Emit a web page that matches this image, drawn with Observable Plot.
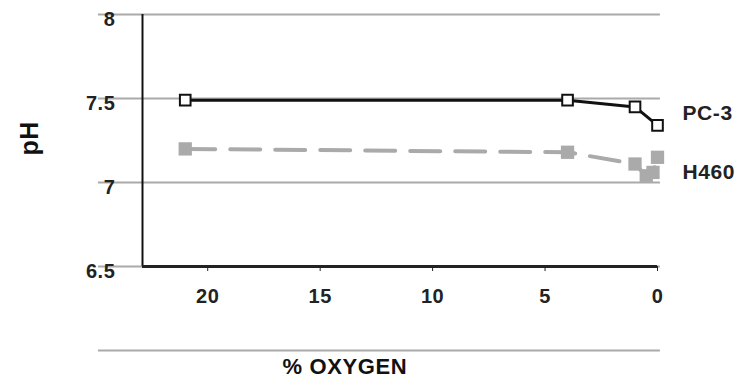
<!DOCTYPE html>
<html>
<head>
<meta charset="utf-8">
<script src="https://cdn.jsdelivr.net/npm/d3@7"></script>
<script src="https://cdn.jsdelivr.net/npm/@observablehq/plot@0.6"></script>
<style>
  body { margin: 0; background: #fff; }
  #chart text { letter-spacing: 0.6px; }
</style>
</head>
<body>
<div id="chart"></div>
<script>
// Data
const pc3Oxygen = [21, 4, 1, 0];
const pc3PH = [7.49, 7.49, 7.45, 7.34];
const h460Oxygen = [21, 4, 1, 0.5, 0.2, 0];
const h460PH = [7.2, 7.18, 7.11, 7.04, 7.06, 7.15];
const seriesNames = ["PC-3", "H460"];
const seriesLabelY = [7.41, 7.06];
const xTicks = [20, 15, 10, 5, 0];
const yTicks = [6.5, 7, 7.5, 8];
const xLabel = "% OXYGEN";
const yLabel = "pH";

const pc3 = pc3Oxygen.map((o, i) => ({o, ph: pc3PH[i]}));
const h460 = h460Oxygen.map((o, i) => ({o, ph: h460PH[i]}));
const labels = seriesNames.map((name, i) => ({name, y: seriesLabelY[i]}));

const xMax = 22.9;
const chart = Plot.plot({
  width: 746,
  height: 386,
  marginLeft: 142,
  marginRight: 89,
  marginTop: 14,
  marginBottom: 120,
  style: {fontFamily: "'Liberation Sans', Arial, sans-serif", fontSize: "20px", fontWeight: "bold", color: "#222", background: "#fff"},
  x: {domain: [0, xMax], reverse: true},
  y: {domain: [6.5, 8]},
  marks: [
    // gridlines
    Plot.ruleY(yTicks, {x1: 24.86, x2: -0.13, stroke: "#aaa", strokeWidth: 2}),
    // axis lines
    Plot.ruleX([xMax], {y1: 6.5, y2: 8, stroke: "#111", strokeWidth: 2}),
    Plot.ruleY([6.5], {x1: xMax, x2: 0, stroke: "#222", strokeWidth: 3}),
    Plot.axisX({ticks: xTicks, tickSize: 5, tickPadding: 17, label: null, stroke: "#222", fill: "#222"}),
    Plot.axisY({ticks: yTicks, tickSize: 0, tickPadding: 27, dy: 5, label: null, tickFormat: d => String(d), fill: "#222"}),
    // decorative line above x label
    Plot.ruleY([6.0], {x1: 24.86, x2: -0.13, stroke: "#aaa", strokeWidth: 2}),
    Plot.text([xLabel], {x: 13.9, y: 5.9, text: d => d, fontSize: 22, fill: "#111"}),
    Plot.text([yLabel], {frameAnchor: "left", y: 7.16, dx: -113, rotate: -90, text: d => d, fontSize: 25, fill: "#111"}),
    // H460
    Plot.line(h460, {x: "o", y: "ph", stroke: "#aaa", strokeWidth: 4, strokeDasharray: "30,15"}),
    Plot.dot(h460, {x: "o", y: "ph", symbol: "square", r: 7.5, fill: "#aaa", stroke: "none"}),
    // PC-3
    Plot.line(pc3, {x: "o", y: "ph", stroke: "#111", strokeWidth: 3}),
    Plot.dot(pc3, {x: "o", y: "ph", symbol: "square", r: 6, fill: "#fff", stroke: "#111", strokeWidth: 2}),
    // series labels
    Plot.text(labels, {x: 0, y: "y", text: "name", dx: 25, textAnchor: "start", fontSize: 21, fill: "#222"})
  ]
});
document.getElementById("chart").appendChild(chart);
</script>
</body>
</html>
